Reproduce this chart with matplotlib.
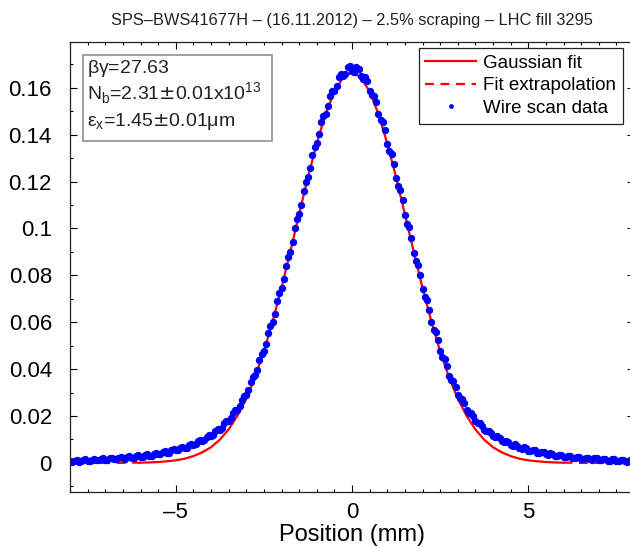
import numpy as np
import matplotlib
matplotlib.use('Agg')
import matplotlib.pyplot as plt
from matplotlib.patches import Rectangle
from matplotlib.ticker import MultipleLocator, FuncFormatter

plt.rcParams['font.family'] = ['Liberation Sans', 'DejaVu Sans']

# wire scan data, first pass every 0.125 mm
scan_x = np.arange(-8.0, 8.0001, 0.125)
scan_y = [0.0007, 0.0010, 0.0006, 0.0012, 0.0009, 0.0014, 0.0011, 0.0017,
          0.0013, 0.0019, 0.0016, 0.0022, 0.0019, 0.0025, 0.0022, 0.0029,
          0.0026, 0.0034, 0.0031, 0.0040, 0.0037, 0.0046, 0.0044, 0.0055,
          0.0053, 0.0065, 0.0064, 0.0078, 0.0077, 0.0093, 0.0094, 0.0112,
          0.0115, 0.0137, 0.0141, 0.0169, 0.0178, 0.0212, 0.0227, 0.0270,
          0.0291, 0.0346, 0.0374, 0.0441, 0.0479, 0.0556, 0.0603, 0.0691,
          0.0745, 0.0840, 0.0899, 0.1001, 0.1060, 0.1161, 0.1218, 0.1315,
          0.1364, 0.1452, 0.1490, 0.1563, 0.1588, 0.1645, 0.1650, 0.1688,
          0.1672,
          0.1690, 0.1648, 0.1646, 0.1585, 0.1566, 0.1489, 0.1455, 0.1362,
          0.1318, 0.1215, 0.1163, 0.1057, 0.1004, 0.0896, 0.0843, 0.0741,
          0.0694, 0.0600, 0.0559, 0.0476, 0.0444, 0.0371, 0.0349, 0.0289,
          0.0273, 0.0225, 0.0214, 0.0177, 0.0170, 0.0140, 0.0138, 0.0114,
          0.0113, 0.0093, 0.0094, 0.0076, 0.0079, 0.0063, 0.0066, 0.0052,
          0.0056, 0.0043, 0.0047, 0.0036, 0.0041, 0.0030, 0.0035, 0.0025,
          0.0030, 0.0021, 0.0026, 0.0018, 0.0023, 0.0015, 0.0020, 0.0012,
          0.0017, 0.0010, 0.0015, 0.0008, 0.0013, 0.0007, 0.0011, 0.0006]

# second pass, shifted by half a step
scan2_x = np.arange(-7.9375, 7.94, 0.125)
scan2_y = [0.0004, 0.0013, 0.0008, 0.0015, 0.0009, 0.0017, 0.0011, 0.0019,
           0.0012, 0.0021, 0.0015, 0.0024, 0.0018, 0.0028, 0.0022, 0.0032,
           0.0026, 0.0036, 0.0031, 0.0043, 0.0037, 0.0050, 0.0044, 0.0058,
           0.0054, 0.0069, 0.0065, 0.0081, 0.0080, 0.0097, 0.0098, 0.0117,
           0.0121, 0.0143, 0.0150, 0.0178, 0.0190, 0.0225, 0.0243, 0.0287,
           0.0312, 0.0368, 0.0398, 0.0466, 0.0508, 0.0585, 0.0637, 0.0725,
           0.0784, 0.0879, 0.0941, 0.1040, 0.1102, 0.1198, 0.1258, 0.1349,
           0.1401, 0.1481, 0.1520, 0.1587, 0.1609, 0.1658, 0.1660, 0.1692,
           0.1667, 0.1679, 0.1638, 0.1627, 0.1568, 0.1538, 0.1463, 0.1418,
           0.1331, 0.1275, 0.1180, 0.1120, 0.1021, 0.0958, 0.0861, 0.0801,
           0.0707, 0.0653, 0.0568, 0.0524, 0.0451, 0.0412, 0.0354, 0.0325,
           0.0275, 0.0254, 0.0215, 0.0199, 0.0169, 0.0159, 0.0134, 0.0128,
           0.0109, 0.0106, 0.0089, 0.0088, 0.0073, 0.0074, 0.0061, 0.0062,
           0.0050, 0.0053, 0.0042, 0.0045, 0.0035, 0.0039, 0.0029, 0.0034,
           0.0025, 0.0030, 0.0021, 0.0026, 0.0017, 0.0023, 0.0014, 0.0020,
           0.0012, 0.0018, 0.0010, 0.0016, 0.0008, 0.0014, 0.0006, 0.0012]

# gaussian fit curve, every 0.25 mm
fit_x = np.arange(-8.0, 8.0001, 0.25)
fit_y = [0.0, 0.0, 0.0, 0.0, 0.0, 0.0, 0.0, 0.0001,
         0.0001, 0.0002, 0.0004, 0.0007, 0.0011, 0.0018, 0.0029, 0.0045,
         0.0067, 0.0099, 0.0143, 0.0201, 0.0274, 0.0366, 0.0476, 0.0604,
         0.0747, 0.0901, 0.1061, 0.1218, 0.1363, 0.1488, 0.1584, 0.1644,
         0.1665,
         0.1644, 0.1584, 0.1488, 0.1363, 0.1218, 0.1061, 0.0901, 0.0747,
         0.0604, 0.0476, 0.0366, 0.0274, 0.0201, 0.0143, 0.0099, 0.0067,
         0.0045, 0.0029, 0.0018, 0.0011, 0.0007, 0.0004, 0.0002, 0.0001,
         0.0001, 0.0, 0.0, 0.0, 0.0, 0.0, 0.0, 0.0]
fit_y = np.array(fit_y)
fit_range = 6.0

title = u'SPS\u2013BWS41677H \u2013 (16.11.2012) \u2013 2.5% scraping \u2013 LHC fill 3295'
info = [r'$\mathregular{\beta\gamma}$=27.63',
        r'N$_\mathregular{b}$=2.31$\pm$0.01x10$^\mathregular{13}$',
        r'$\mathregular{\varepsilon}_\mathregular{x}$=1.45$\pm$0.01$\mathregular{\mu}$m']

fig = plt.figure(figsize=(6.3, 5.48), dpi=100)
ax = fig.add_axes([70 / 630, 56 / 548, 564 / 630, 450 / 548])

inner = np.abs(fit_x) <= fit_range
left = fit_x <= -fit_range
right = fit_x >= fit_range
ax.plot(fit_x[inner], fit_y[inner], color='r', lw=1.6, label='Gaussian fit')
ax.plot(fit_x[left], fit_y[left], color='r', lw=1.6, ls=(0, (4, 3)),
        label='Fit extrapolation')
ax.plot(fit_x[right], fit_y[right], color='r', lw=1.6, ls=(0, (4, 3)))
ax.plot(scan_x, scan_y, ls='none', marker='o', ms=5.3, mfc='b', mec='b',
        mew=0, label='Wire scan data')
ax.plot(scan2_x, scan2_y, ls='none', marker='o', ms=5.3, mfc='b', mec='b',
        mew=0)

ax.set_xlim(-8, 8)
ax.set_ylim(-0.0124, 0.1795)
ax.xaxis.set_major_locator(MultipleLocator(5))
ax.xaxis.set_minor_locator(MultipleLocator(0.5))
ax.yaxis.set_major_locator(MultipleLocator(0.02))
ax.yaxis.set_minor_locator(MultipleLocator(0.01))
ax.yaxis.set_major_formatter(FuncFormatter(lambda v, p: '%g' % round(v, 4)))
ax.xaxis.set_major_formatter(FuncFormatter(lambda v, p: ('%g' % v).replace('-', u'\u2013')))
ax.tick_params(which='both', direction='in', top=True, right=True,
               labelsize=16, width=0.8)
ax.tick_params(which='major', length=5)
ax.tick_params(which='minor', length=2.5)
ax.tick_params(axis='y', pad=13)
ax.tick_params(axis='x', pad=7)
for s in ax.spines.values():
    s.set_linewidth(0.9)
    s.set_color('#222222')

ax.set_xlabel('Position (mm)', fontsize=17, labelpad=1)
ax.set_title(title, fontsize=11.8, pad=12, color='#222222')

leg = ax.legend(loc='upper right', bbox_to_anchor=(0.9805, 0.987),
                borderaxespad=0, fontsize=13.5, handlelength=2.7,
                fancybox=False, edgecolor='#222222', framealpha=1,
                labelspacing=0.3, borderpad=0.35, handletextpad=0.4,
                markerscale=0.65)
leg.get_frame().set_linewidth(0.9)

ax.add_patch(Rectangle((0.023, 0.779), 0.335, 0.192, transform=ax.transAxes,
                       fill=True, facecolor='white', edgecolor='#999999',
                       lw=1.3, zorder=5))
for txt, yy in zip(info, [0.931, 0.872, 0.814]):
    ax.text(0.030, yy, txt, transform=ax.transAxes, fontsize=14,
            va='baseline', ha='left', zorder=6, color='#222222')

fig.savefig('out.png', dpi=100)
